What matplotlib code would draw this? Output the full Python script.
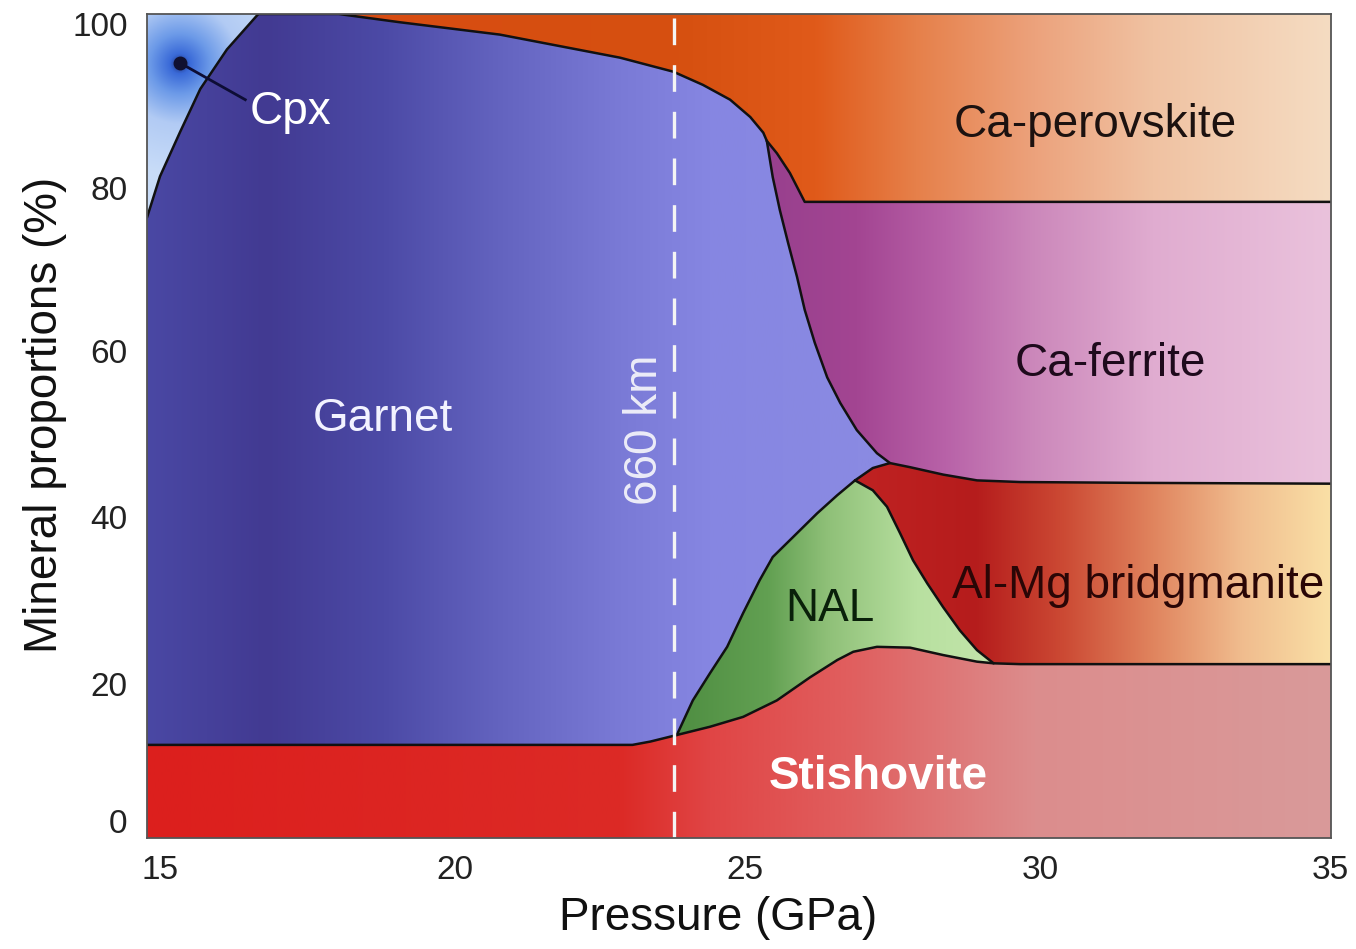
import numpy as np
import matplotlib.pyplot as plt
from matplotlib.colors import to_rgb
from matplotlib.patches import Polygon
from matplotlib.transforms import ScaledTranslation

plt.rcParams['font.family'] = ['Liberation Sans', 'DejaVu Sans']

# phase boundaries (pressure GPa, proportion %)
stv_x = [15.0, 23.2, 23.5, 23.67, 23.95, 24.51, 25.07, 25.64, 26.2, 26.66, 26.93, 27.33, 27.89,
         28.45, 29.02, 29.3, 29.75, 35.0]
stv_y = [11.3, 11.3, 11.7, 12.0, 12.5, 13.5, 14.7, 16.7, 19.5, 21.6, 22.6, 23.2, 23.1,
         22.2, 21.4, 21.2, 21.1, 21.1]

nal_left_x = [23.95, 24.22, 24.51, 24.8, 25.07, 25.35, 25.57, 25.91, 26.32, 26.66, 26.96]
nal_left_y = [12.5, 16.7, 20.0, 23.2, 27.3, 31.3, 34.1, 36.5, 39.4, 41.6, 43.4]
nal_right_x = [26.96, 27.26, 27.5, 27.72, 27.94, 28.18, 28.45, 28.73, 29.02, 29.3]
nal_right_y = [43.4, 42.2, 40.2, 37.0, 33.7, 30.9, 28.0, 25.2, 22.8, 21.2]

bdg_top_x = [26.96, 27.26, 27.55, 27.89, 28.45, 29.02, 29.75, 31.7, 35.0]
bdg_top_y = [43.4, 44.9, 45.5, 45.0, 44.1, 43.4, 43.2, 43.1, 43.0]

grt_cpx_x = [15.0, 15.22, 15.56, 15.9, 16.35, 16.88]
grt_cpx_y = [75.3, 80.3, 85.7, 90.9, 95.7, 100.0]
grt_cpv_x = [16.88, 18.24, 19.27, 20.96, 22.99, 23.89, 24.39, 24.85, 25.19, 25.41, 25.47]
grt_cpv_y = [100.0, 100.0, 99.0, 97.5, 94.7, 93.0, 91.4, 89.6, 87.5, 85.6, 84.6]
grt_cfe_x = [25.47, 25.57, 25.69, 25.83, 25.98, 26.11, 26.28, 26.49, 26.71, 26.99, 27.33, 27.55]
grt_cfe_y = [84.6, 80.2, 76.2, 72.2, 68.1, 64.1, 60.1, 55.9, 52.8, 49.5, 46.7, 45.5]
cpv_cfe_x = [25.47, 25.64, 25.86, 26.11, 35.0]
cpv_cfe_y = [84.6, 83.1, 80.7, 77.2, 77.2]

depth_660 = 23.9

# colour stops along pressure for each phase
stv_cx = [15, 23, 24.5, 27, 30, 35]
stv_c = ['#dc1f1d', '#dc2a26', '#e04545', '#e06060', '#dc8d8d', '#d99a9a']
grt_cx = [15, 17, 19, 21, 23, 24.5, 27]
grt_c = ['#4a48a4', '#423a92', '#4c4aa6', '#6464c0', '#7a7ad6', '#8686e2', '#8a8ae2']
cpv_cx = [18, 24, 26.3, 28, 30, 32, 35]
cpv_c = ['#d84c12', '#d65010', '#e05a1a', '#e6804a', '#eca27c', '#f0c2a2', '#f5dcc2']
cfe_cx = [25.5, 27, 28.5, 30, 32, 35]
cfe_c = ['#98408e', '#a34592', '#b862a8', '#cc88bb', '#e0acd0', '#eac2dc']
bdg_cx = [27, 29, 30.5, 32, 33.5, 35]
bdg_c = ['#c02222', '#b51c1c', '#cc4a34', '#e0845e', '#f0bc8e', '#fae0a6']
nal_cx = [24, 25.5, 26.5, 28, 29.5]
nal_c = ['#4f8e42', '#62a052', '#8fc078', '#b8e0a0', '#c4e6ac']

x_ticks = [15, 20, 25, 30, 35]
y_ticks = [0, 20, 40, 60, 80, 100]


def rng(xs, ys, lo, hi):
    xs = np.asarray(xs)
    ys = np.asarray(ys)
    m = (xs >= lo) & (xs <= hi)
    return list(zip(xs[m], ys[m]))


def grad_fill(ax, pts, cx, cols):
    poly = Polygon(pts, closed=True, facecolor='none', edgecolor='none')
    ax.add_patch(poly)
    gx = np.linspace(15, 35, 800)
    rgb = np.array([to_rgb(c) for c in cols])
    img = np.stack([np.interp(gx, cx, rgb[:, k]) for k in range(3)], axis=-1)[None, :, :]
    im = ax.imshow(img, extent=(15, 35, 0, 100), aspect='auto', origin='lower',
                   interpolation='bilinear', zorder=1)
    im.set_clip_path(poly)


fig = plt.figure(figsize=(13.56, 9.49), dpi=100)
ax = fig.add_axes([147 / 1356, 111 / 949, 1184 / 1356, 824 / 949])

stv = list(zip(stv_x, stv_y))
nal_l = list(zip(nal_left_x, nal_left_y))
nal_r = list(zip(nal_right_x, nal_right_y))
bdg = list(zip(bdg_top_x, bdg_top_y))
g_cpx = list(zip(grt_cpx_x, grt_cpx_y))
g_cpv = list(zip(grt_cpv_x, grt_cpv_y))
g_cfe = list(zip(grt_cfe_x, grt_cfe_y))
c_cfe = list(zip(cpv_cfe_x, cpv_cfe_y))

# stishovite
grad_fill(ax, [(15, 0), (35, 0)] + stv[::-1], stv_cx, stv_c)
# NAL
grad_fill(ax, nal_l + nal_r[1:] + rng(stv_x, stv_y, 23.96, 29.29)[::-1], nal_cx, nal_c)
# Al-Mg bridgmanite
grad_fill(ax, bdg + rng(stv_x, stv_y, 29.3, 35)[::-1] + nal_r[::-1][1:], bdg_cx, bdg_c)
# garnet
grt_pts = (rng(stv_x, stv_y, 15, 23.95) + nal_l[1:] + rng(bdg_top_x, bdg_top_y, 26.97, 27.55)
           + g_cfe[::-1][1:] + g_cpv[::-1][1:] + g_cpx[::-1][1:])
grad_fill(ax, grt_pts, grt_cx, grt_c)
# Ca-ferrite
grad_fill(ax, g_cfe + rng(bdg_top_x, bdg_top_y, 27.56, 35) + c_cfe[::-1][:-1], cfe_cx, cfe_c)
# Ca-perovskite
grad_fill(ax, g_cpv[1:] + c_cfe[1:] + [(35, 100)], cpv_cx, cpv_c)

# Cpx: radial shading around the pointer dot
cpx_poly = Polygon(g_cpx + [(15, 100)], closed=True, facecolor='none', edgecolor='none')
ax.add_patch(cpx_poly)
gx, gy = np.meshgrid(np.linspace(15, 17.2, 200), np.linspace(72, 100, 200))
r = np.hypot((gx - 15.55) * 59.2, (gy - 94.0) * 8.24)
r_stops = [0, 10, 30, 60, 110]
r_cols = np.array([to_rgb(c) for c in ['#1c2c70', '#3a6ad8', '#6c9ae8', '#b2cbf4', '#c8dcf8']])
cimg = np.stack([np.interp(r, r_stops, r_cols[:, k]) for k in range(3)], axis=-1)
im = ax.imshow(cimg, extent=(15, 17.2, 72, 100), aspect='auto', origin='lower',
               interpolation='bilinear', zorder=1)
im.set_clip_path(cpx_poly)

# phase boundaries
lkw = dict(color='#111111', lw=1.8, zorder=3, solid_joinstyle='round', solid_capstyle='round')
for bx, by in [(stv_x, stv_y), (nal_left_x, nal_left_y), (nal_right_x, nal_right_y),
               (bdg_top_x, bdg_top_y), (grt_cpx_x, grt_cpx_y), (grt_cpv_x, grt_cpv_y),
               (grt_cfe_x, grt_cfe_y), (cpv_cfe_x, cpv_cfe_y)]:
    ax.plot(bx, by, **lkw)

# 660 km discontinuity
ax.axvline(depth_660, color='#f4f4f4', lw=2.4, dashes=(8, 6), zorder=4)
ax.text(23.41, 49.5, '660 km', rotation=90, ha='center', va='center', fontsize=33,
        color='#ececf8', zorder=5)

# Cpx pointer
ax.plot([15.56, 16.66], [94.05, 89.6], color='#0d0d35', lw=2.0, zorder=5)
ax.plot([15.56], [94.05], 'o', ms=9, color='#101030', zorder=5)

# phase labels
ax.text(17.42, 86.6, 'Cpx', ha='center', va='baseline', fontsize=33, color='white', zorder=5)
ax.text(18.99, 49.4, 'Garnet', ha='center', va='baseline', fontsize=33, color='#f2f2ff', zorder=5)
ax.text(31.01, 85.1, 'Ca-perovskite', ha='center', va='baseline', fontsize=33, color='#1c1210', zorder=5)
ax.text(31.27, 56.1, 'Ca-ferrite', ha='center', va='baseline', fontsize=33, color='#1e0a1c', zorder=5)
ax.text(31.74, 29.1, 'Al-Mg bridgmanite', ha='center', va='baseline', fontsize=33, color='#2a0606', zorder=5)
ax.text(26.54, 26.3, 'NAL', ha='center', va='baseline', fontsize=33, color='#0a200a', zorder=5)
ax.text(27.35, 5.9, 'Stishovite', ha='center', va='baseline', fontsize=33, fontweight='bold',
        color='white', zorder=5)

ax.set_xlim(15, 35)
ax.set_ylim(0, 100)
ax.set_xticks(x_ticks)
ax.set_yticks(y_ticks)
ax.tick_params(length=0, labelsize=24, labelcolor='#222222')
ax.tick_params(axis='x', pad=12)
ax.tick_params(axis='y', pad=14)
for s in ax.spines.values():
    s.set_color('#555555')
    s.set_linewidth(1.3)
    s.set_zorder(6)

# the tick labels in the original sit slightly off their ticks
for lab, dx in zip(ax.get_xticklabels(), [13, 12, 6, 5, -1]):
    lab.set_transform(lab.get_transform() + ScaledTranslation(dx / 100, 0, fig.dpi_scale_trans))
for lab, dy in zip(ax.get_yticklabels(), [17, -11, -9, -7, -9, -10]):
    lab.set_transform(lab.get_transform() + ScaledTranslation(0, dy / 100, fig.dpi_scale_trans))

ax.set_xlabel('Pressure (GPa)', fontsize=33, color='#111111')
ax.set_ylabel('Mineral proportions (%)', fontsize=33, color='#111111')
ax.xaxis.set_label_coords(0.482, -0.097)
ax.xaxis.label.set_va('center')
ax.yaxis.set_label_coords(-0.086, 0.513)
ax.yaxis.label.set_va('center')

fig.savefig('out.png', dpi=100)
